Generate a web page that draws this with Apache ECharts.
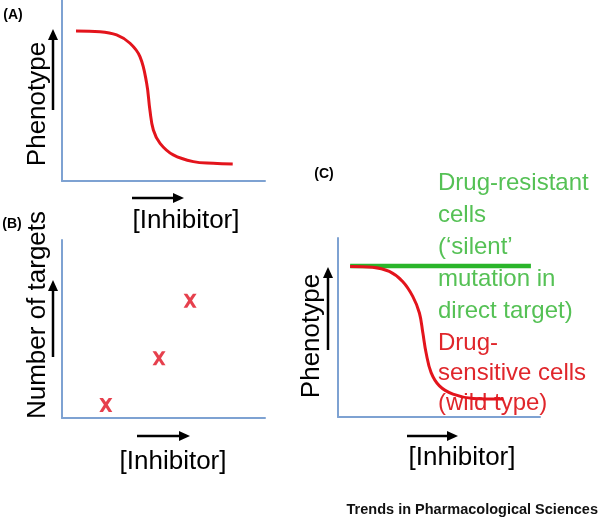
<!DOCTYPE html>
<html>
<head>
<meta charset="utf-8">
<script src="https://cdn.jsdelivr.net/npm/echarts@6/dist/echarts.min.js"></script>
<style>html,body{margin:0;padding:0;background:#fff}#c{width:600px;height:518px}</style>
</head>
<body>
<div id="c"></div>
<script>
// Panel A: dose-response curve (normalized 0-100 units)
const curveA_x = [6.9, 18.7, 26.9, 33.5, 38.4, 41.7, 43.3, 45.0, 48.3, 54.8, 64.7, 74.5, 84.1];
const curveA_y = [82.9, 82.5, 80.7, 76.1, 68.7, 54.0, 39.2, 28.2, 20.8, 14.4, 10.7, 9.8, 9.4];
// Panel B: number of targets vs inhibitor
const targetsB_x = [21.6, 47.8, 63.1];
const targetsB_y = [7.3, 33.5, 65.9];
// Panel C: drug-resistant (flat) and drug-sensitive curves
const resistC_x = [6.0, 95.5];
const resistC_y = [84.4, 84.4];
const sensC_x = [6.0, 17.1, 25.4, 32.0, 37.0, 40.3, 42.0, 43.6, 46.1, 50.2, 56.9, 66.8, 81.8];
const sensC_y = [84.1, 83.7, 81.3, 75.7, 67.4, 58.1, 47.0, 35.9, 24.8, 17.4, 12.8, 10.4, 10.0];

const panelLabels = ['(A)', '(B)', '(C)'];
const xLabel = '[Inhibitor]';
const yLabels = ['Phenotype', 'Number of targets', 'Phenotype'];
const greenText = ['Drug-resistant', 'cells', '(\u2018silent\u2019', 'mutation in', 'direct target)'];
const redText = ['Drug-', 'sensitive cells', '(wild type)'];
const footer = 'Trends in Pharmacological Sciences';

const zip = (a, b) => a.map((v, i) => [v, b[i]]);

const AXIS = '#7ea2d2';
const RED = '#e3141c';
const GREEN = '#2ab52a';
const FONT = 'Liberation Sans, Arial, sans-serif';

function mkAxes(idx) {
  return {
    x: {type: 'value', gridIndex: idx, min: 0, max: 100, axisLine: {show: true, lineStyle: {color: AXIS, width: 2}},
        axisTick: {show: false}, axisLabel: {show: false}, splitLine: {show: false}},
    y: {type: 'value', gridIndex: idx, min: 0, max: 100, axisLine: {show: true, lineStyle: {color: AXIS, width: 2}},
        axisTick: {show: false}, axisLabel: {show: false}, splitLine: {show: false}}
  };
}
const axA = mkAxes(0), axB = mkAxes(1), axC = mkAxes(2);

function arrow(x1, y1, x2, y2) {
  const dx = x2 - x1, dy = y2 - y1, L = Math.hypot(dx, dy);
  const ux = dx / L, uy = dy / L, hl = 11, hw = 5;
  const bx = x2 - ux * hl, by = y2 - uy * hl;
  return [
    {type: 'line', shape: {x1: x1, y1: y1, x2: bx, y2: by}, style: {stroke: '#000', lineWidth: 2.5}, silent: true},
    {type: 'polygon', shape: {points: [[x2, y2], [bx - uy * hw, by + ux * hw], [bx + uy * hw, by - ux * hw]]},
     style: {fill: '#000'}, silent: true}
  ];
}
function txt(x, y, s, opt) {
  return Object.assign({type: 'text', x: x, y: y, silent: true,
    style: Object.assign({text: s, fill: '#000', font: '26px ' + FONT, textAlign: 'center', textVerticalAlign: 'middle'}, opt || {})});
}
function vtxt(x, y, s) {
  return {type: 'text', x: x, y: y, rotation: Math.PI / 2, silent: true,
    style: {text: s, fill: '#000', font: '26px ' + FONT, textAlign: 'center', textVerticalAlign: 'middle'}};
}

const graphics = [];
graphics.push(txt(13, 15, panelLabels[0], {font: 'bold 14px ' + FONT}));
graphics.push(txt(12, 224, panelLabels[1], {font: 'bold 14px ' + FONT}));
graphics.push(txt(324, 174, panelLabels[2], {font: 'bold 14px ' + FONT}));
// Axis titles
graphics.push(vtxt(38, 104, yLabels[0]));
graphics.push(vtxt(38, 315, yLabels[1]));
graphics.push(vtxt(312, 336, yLabels[2]));
graphics.push(txt(186, 221, xLabel));
graphics.push(txt(173, 462, xLabel));
graphics.push(txt(462, 458, xLabel));
// Arrows
graphics.push(...arrow(53, 110, 53, 29));
graphics.push(...arrow(53, 357, 53, 280));
graphics.push(...arrow(328, 350, 328, 267));
graphics.push(...arrow(132, 198, 184, 198));
graphics.push(...arrow(137, 436, 190, 436));
graphics.push(...arrow(407, 436, 458, 436));
// Annotations in C
greenText.forEach((s, i) => graphics.push(txt(438, 183 + i * 32, s, {fill: '#55c155', font: '24px ' + FONT, textAlign: 'left'})));
redText.forEach((s, i) => graphics.push(txt(438, 343 + i * 30, s, {fill: '#e0262b', font: '24px ' + FONT, textAlign: 'left'})));
// Footer
graphics.push(txt(598, 510, footer, {font: 'bold 14.5px ' + FONT, textAlign: 'right', fill: '#111'}));

const xPath = 'path://M0,0L2.8,0L5,3.5L7.2,0L10,0L6.5,5.8L10,12L7.2,12L5,8.1L2.8,12L0,12L3.5,5.8Z';

const chart = echarts.init(document.getElementById('c'), null, {renderer: 'canvas'});
chart.setOption({
  animation: false,
  backgroundColor: '#fff',
  grid: [
    {left: 62, top: 0, width: 203, height: 181},
    {left: 62, top: 240, width: 203, height: 178},
    {left: 338, top: 238, width: 202, height: 179}
  ],
  xAxis: [axA.x, axB.x, axC.x],
  yAxis: [axA.y, axB.y, axC.y],
  series: [
    {type: 'line', xAxisIndex: 0, yAxisIndex: 0, data: zip(curveA_x, curveA_y), smooth: 0.4, symbol: 'none',
     lineStyle: {color: RED, width: 3}},
    {type: 'scatter', xAxisIndex: 1, yAxisIndex: 1, data: zip(targetsB_x, targetsB_y), symbol: xPath,
     symbolSize: [13, 14], itemStyle: {color: '#e01020'}},
    {type: 'line', xAxisIndex: 2, yAxisIndex: 2, data: zip(resistC_x, resistC_y), symbol: 'none',
     lineStyle: {color: GREEN, width: 4.5}},
    {type: 'line', xAxisIndex: 2, yAxisIndex: 2, data: zip(sensC_x, sensC_y), smooth: 0.4, symbol: 'none',
     lineStyle: {color: RED, width: 3}}
  ],
  graphic: graphics
});
</script>
</body>
</html>
